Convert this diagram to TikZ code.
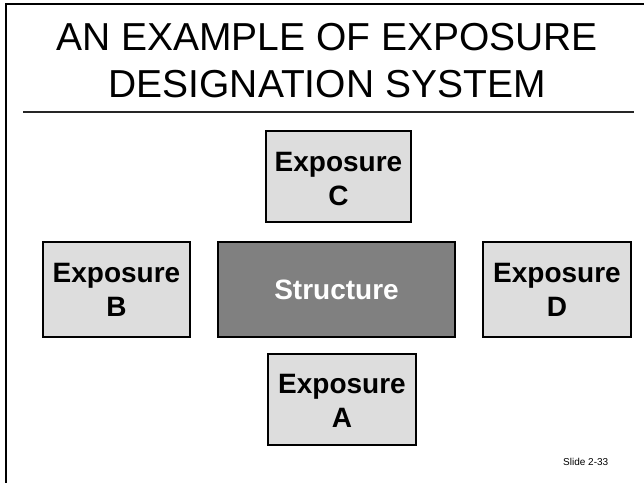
\documentclass[tikz,border=0pt]{standalone}
\usepackage{fontspec}
\setmainfont{Liberation Sans}
\definecolor{boxlight}{HTML}{DDDDDD}
\definecolor{boxdark}{HTML}{808080}
\tikzset{
  exposurebox/.style={draw=black, line width=2bp, fill=boxlight},
  structurebox/.style={draw=black, line width=2bp, fill=boxdark},
  boxlabel/.style={align=center, font=\fontsize{28bp}{34bp}\selectfont\bfseries, inner sep=0pt},
}
\begin{document}
\begin{tikzpicture}[x=1bp, y=-1bp]
  \useasboundingbox (0,0) rectangle (644,483);
  % slide frame (top and left edges)
  \draw[line width=2bp] (6,483) -- (6,4) -- (644,4);
  % title
  \node[align=center, font=\fontsize{39bp}{47bp}\selectfont, anchor=base] (title) at (327,98)
    {AN EXAMPLE OF EXPOSURE\\DESIGNATION SYSTEM};
  \draw[line width=1.5bp, black!85] (23,112) -- (634,112);
  % boxes
  \draw[exposurebox] (266,131) rectangle (411,222);
  \node[boxlabel] (expC) at (338.5,179.5) {Exposure\\C};
  \draw[exposurebox] (43,242) rectangle (190,337);
  \node[boxlabel] (expB) at (116.5,289.5) {Exposure\\B};
  \draw[structurebox] (218,242) rectangle (455,337);
  \node[boxlabel, text=white] (struct) at (336.5,289.5) {Structure};
  \draw[exposurebox] (483,242) rectangle (631,337);
  \node[boxlabel] (expD) at (557,289.5) {Exposure\\D};
  \draw[exposurebox] (268,354) rectangle (416,445);
  \node[boxlabel] (expA) at (342,400.5) {Exposure\\A};
  % slide number
  \node[font=\fontsize{10bp}{12bp}\selectfont, anchor=base west, inner sep=0pt] (slideno) at (563,465) {Slide 2-33};
\end{tikzpicture}
\end{document}
